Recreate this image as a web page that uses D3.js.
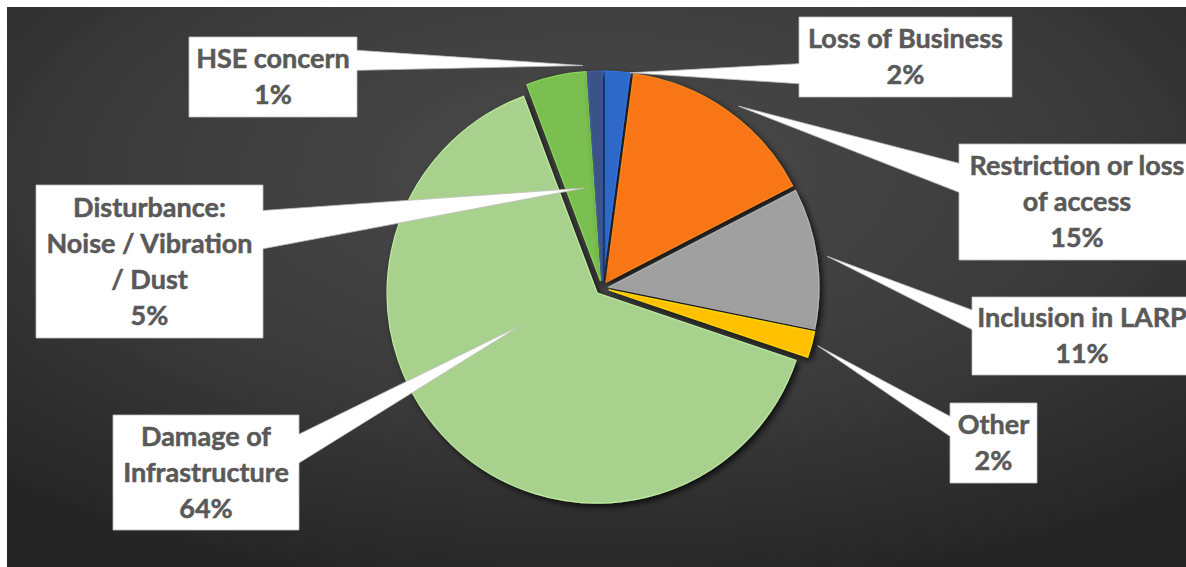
<!DOCTYPE html>
<html>
<head>
<meta charset="utf-8">
<script src="https://cdn.jsdelivr.net/npm/d3@7"></script>
<style>
  body { margin: 0; background: #fff; }
  svg { display: block; }
</style>
</head>
<body>
<script>
// data, clockwise from 12 o'clock
var categories = ["Loss of Business", "Restriction or loss of access", "Inclusion in LARP", "Other",
                  "Damage of Infrastructure", "Disturbance: Noise / Vibration / Dust", "HSE concern"];
var values = [2.1, 15.3, 10.8, 2.0, 64.1, 4.6, 1.1];
var colors = ["#2f67c9", "#f97619", "#a0a0a0", "#ffc000", "#a9d18e", "#7abf4f", "#3b5289"];
var labelLines = [["Loss of Business"], ["Restriction or loss", "of access"], ["Inclusion in LARP"], ["Other"],
                  ["Damage of", "Infrastructure"], ["Disturbance:", "Noise / Vibration", "/ Dust"], ["HSE concern"]];

// callout boxes [x, y, w, h] and leader tips [angle deg, radius factor]
var boxes = [[799, 17, 213, 80], [959, 144, 236, 116], [972, 297, 220, 78], [950, 403, 87, 80],
             [113, 415, 186, 115], [36, 185, 227, 153], [189, 37, 168, 80]];
var tips = [[7.5, 1.0], [37, 1.05], [82, 1.05], [105, 1.03], [247, 0.4], [350, 0.45], [355, 1.03]];

var W = 1186, H = 567;
var cx = 602, cy = 288, R = 210, explode = 7;

var svg = d3.select("body").append("svg")
    .attr("width", W)
    .attr("height", H);

var defs = svg.append("defs");
var grad = defs.append("radialGradient")
    .attr("id", "bg")
    .attr("cx", "50%").attr("cy", "30%").attr("r", "75%");
grad.append("stop").attr("offset", "0%").attr("stop-color", "#4b4b4b");
grad.append("stop").attr("offset", "55%").attr("stop-color", "#3b3b3b");
grad.append("stop").attr("offset", "100%").attr("stop-color", "#252525");

var sh = defs.append("filter").attr("id", "shadow")
    .attr("x", "-20%").attr("y", "-20%").attr("width", "140%").attr("height", "140%");
sh.append("feDropShadow")
    .attr("dx", 3).attr("dy", 3).attr("stdDeviation", 3)
    .attr("flood-color", "#000").attr("flood-opacity", 0.75);

svg.append("rect")
    .attr("x", 7).attr("y", 7)
    .attr("width", W - 7).attr("height", H - 7)
    .attr("fill", "url(#bg)");

var pie = d3.pie().sort(null).value(function(d) { return d; });
var arcs = pie(values);
var arc = d3.arc().innerRadius(0).outerRadius(R);
var total = d3.sum(values);

var g = svg.append("g").attr("transform", "translate(" + cx + "," + cy + ")");

g.selectAll("path.slice")
    .data(arcs)
    .enter().append("path")
    .attr("class", "slice")
    .attr("d", arc)
    .attr("transform", function(d) {
        var a = (d.startAngle + d.endAngle) / 2;
        return "translate(" + (Math.sin(a) * explode) + "," + (-Math.cos(a) * explode) + ")";
    })
    .attr("fill", function(d, i) { return colors[i]; })
    .attr("stroke", function(d, i) { return d3.color(colors[i]).brighter(0.35); })
    .attr("stroke-width", 1.2)
    .attr("filter", "url(#shadow)");

// callout shape: rectangle with wedge toward the tip
function callout(b, t) {
    var x = b[0], y = b[1], w = b[2], h = b[3];
    var dx = t[0] - (x + w / 2), dy = t[1] - (y + h / 2);
    var p = [[x, y], [x + w, y], [x + w, y + h], [x, y + h]];
    var pts = [];
    if (Math.abs(dx) / w > Math.abs(dy) / h) {
        var f = dy < 0 ? [2 / 12, 5 / 12] : [7 / 12, 10 / 12];
        if (dx > 0) {
            pts = [p[0], p[1], [x + w, y + h * f[0]], t, [x + w, y + h * f[1]], p[2], p[3]];
        } else {
            pts = [p[0], p[1], p[2], p[3], [x, y + h * f[1]], t, [x, y + h * f[0]]];
        }
    } else {
        var fx = dx < 0 ? [2 / 12, 5 / 12] : [7 / 12, 10 / 12];
        if (dy > 0) {
            pts = [p[0], p[1], p[2], [x + w * fx[1], y + h], t, [x + w * fx[0], y + h], p[3]];
        } else {
            pts = [p[0], [x + w * fx[0], y], t, [x + w * fx[1], y], p[1], p[2], p[3]];
        }
    }
    return "M" + pts.map(function(q) { return q[0] + "," + q[1]; }).join("L") + "Z";
}

var labels = svg.append("g").selectAll("g.label")
    .data(arcs)
    .enter().append("g")
    .attr("class", "label");

labels.append("path")
    .attr("d", function(d, i) {
        var a = tips[i][0] * Math.PI / 180, r = R * tips[i][1];
        var mid = (d.startAngle + d.endAngle) / 2;
        var tx = cx + Math.sin(mid) * explode + Math.sin(a) * r;
        var ty = cy - Math.cos(mid) * explode - Math.cos(a) * r;
        return callout(boxes[i], [tx, ty]);
    })
    .attr("fill", "#fff")
    .attr("stroke", "#bfbfbf")
    .attr("stroke-width", 0.8);

labels.append("text")
    .attr("text-anchor", "middle")
    .attr("font-family", "Lato, 'Open Sans', sans-serif")
    .attr("font-weight", "bold")
    .attr("font-size", 27)
    .attr("fill", "#595959")
    .attr("stroke", "#595959")
    .attr("stroke-width", 0.5)
    .each(function(d, i) {
        var b = boxes[i];
        var lines = labelLines[i].concat([Math.round(d.data / total * 100) + "%"]);
        var lh = 36;
        var y0 = b[1] + b[3] / 2 - (lines.length - 1) * lh / 2;
        var t = d3.select(this);
        lines.forEach(function(s, k) {
            t.append("tspan")
                .attr("x", b[0] + b[2] / 2)
                .attr("y", y0 + k * lh)
                .attr("dy", "0.35em")
                .text(s);
        });
    });
</script>
</body>
</html>
